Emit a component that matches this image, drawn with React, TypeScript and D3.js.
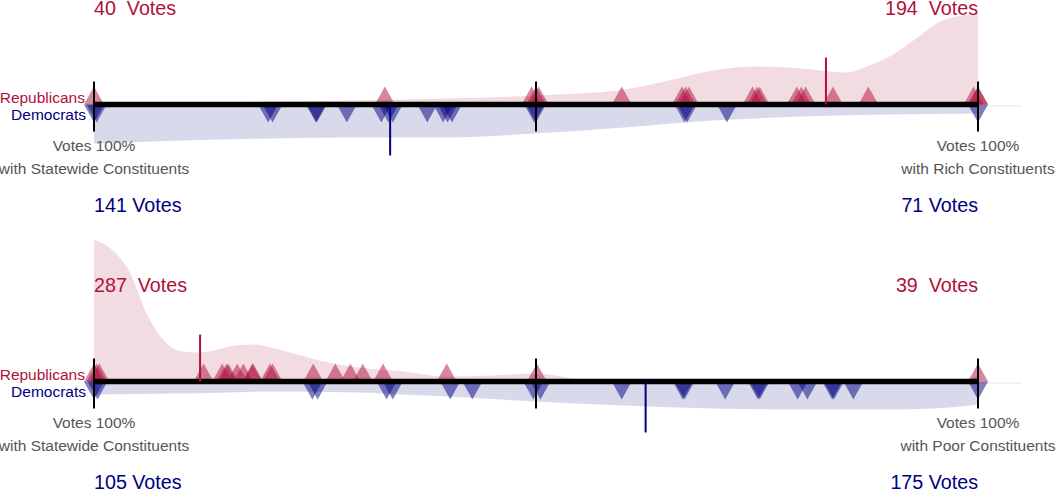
import React, { useEffect, useRef } from 'react';
import * as d3 from 'd3';

const RED = '#b0103a';
const NAVY = '#000080';

// top panel: rich vs statewide constituents (0 = statewide, 1 = rich)
const richRepVotes = [0, 0.329, 0.495, 0.5, 0.503, 0.597, 0.665, 0.669, 0.673, 0.745, 0.75, 0.753, 0.795, 0.8, 0.805, 0.836, 0.876, 0.995, 1.0, 1.0];
const richDemVotes = [0, 0.003, 0.197, 0.202, 0.251, 0.252, 0.286, 0.325, 0.333, 0.338, 0.377, 0.395, 0.4, 0.405, 0.498, 0.5, 0.668, 0.671, 0.716, 1.0];
const richRepMean = 0.828;
const richDemMean = 0.335;
const richRepCounts = [40, 194];
const richDemCounts = [141, 71];
const richRepDensityAt = [0, 0.1, 0.2, 0.3, 0.4, 0.5, 0.6, 0.65, 0.7, 0.75, 0.8, 0.85, 0.88, 0.9, 0.93, 0.96, 1.0];
const richRepDensity = [0.013, 0.013, 0.02, 0.027, 0.04, 0.06, 0.1, 0.16, 0.227, 0.253, 0.24, 0.213, 0.267, 0.32, 0.44, 0.56, 0.607];
const richDemDensityAt = [0, 0.1, 0.2, 0.3, 0.4, 0.5, 0.6, 0.7, 0.8, 0.9, 1.0];
const richDemDensity = [0.26, 0.24, 0.227, 0.22, 0.22, 0.193, 0.153, 0.107, 0.08, 0.067, 0.06];

// bottom panel: poor vs statewide constituents (0 = statewide, 1 = poor)
const poorRepVotes = [0, 0.003, 0.006, 0.124, 0.145, 0.15, 0.152, 0.162, 0.169, 0.179, 0.18, 0.199, 0.202, 0.248, 0.273, 0.29, 0.304, 0.327, 0.399, 0.501, 1.0];
const poorDemVotes = [0, 0.004, 0.247, 0.253, 0.331, 0.338, 0.403, 0.428, 0.497, 0.505, 0.597, 0.666, 0.668, 0.714, 0.751, 0.753, 0.796, 0.807, 0.835, 0.837, 0.859, 1.0];
const poorRepMean = 0.12;
const poorDemMean = 0.624;
const poorRepCounts = [287, 39];
const poorDemCounts = [105, 175];
const poorRepDensityAt = [0, 0.02, 0.04, 0.06, 0.08, 0.1, 0.12, 0.14, 0.16, 0.18, 0.2, 0.23, 0.26, 0.3, 0.35, 0.4, 0.45, 0.5, 0.55, 0.6, 0.7, 0.8, 0.9, 0.95, 0.98, 1.0];
const poorRepDensity = [0.947, 0.88, 0.733, 0.447, 0.267, 0.2, 0.193, 0.213, 0.24, 0.247, 0.227, 0.18, 0.133, 0.093, 0.067, 0.033, 0.04, 0.053, 0.013, 0, 0, 0, 0, 0, 0.013, 0.033];
const poorDemDensityAt = [0, 0.1, 0.2, 0.3, 0.35, 0.4, 0.5, 0.6, 0.7, 0.8, 0.9, 0.95, 1.0];
const poorDemDensity = [0.087, 0.08, 0.067, 0.073, 0.087, 0.1, 0.133, 0.16, 0.18, 0.187, 0.187, 0.18, 0.153];

const panels = [
  { group: 'Rich', rep: richRepVotes, dem: richDemVotes, repMean: richRepMean, demMean: richDemMean,
    repCounts: richRepCounts, demCounts: richDemCounts,
    repDens: richRepDensityAt.map((x, i) => [x, richRepDensity[i]]),
    demDens: richDemDensityAt.map((x, i) => [x, richDemDensity[i]]) },
  { group: 'Poor', rep: poorRepVotes, dem: poorDemVotes, repMean: poorRepMean, demMean: poorDemMean,
    repCounts: poorRepCounts, demCounts: poorDemCounts,
    repDens: poorRepDensityAt.map((x, i) => [x, poorRepDensity[i]]),
    demDens: poorDemDensityAt.map((x, i) => [x, poorDemDensity[i]]) },
];

const width = 1058;
const height = 489;
const font = 'Arial, "Liberation Sans", sans-serif';

export default function App() {
  const ref = useRef<SVGSVGElement>(null);

  useEffect(() => {
    const svg = d3.select(ref.current);
    svg.selectAll('*').remove();

    const x = d3.scaleLinear().domain([0, 1]).range([94, 978]);
    const dens = d3.scaleLinear().domain([0, 1]).range([0, 150]);
    const triW = 10;
    const triH = 18;

    panels.forEach((p, i) => {
      const g = svg.append('g').attr('transform', `translate(0, ${104.5 + i * 277})`);

      // density areas
      const up = d3.area<number[]>()
        .x((d) => x(d[0])).y0(0).y1((d) => -dens(d[1]))
        .curve(d3.curveMonotoneX);
      const down = d3.area<number[]>()
        .x((d) => x(d[0])).y0(0).y1((d) => dens(d[1]))
        .curve(d3.curveMonotoneX);
      g.append('path').attr('d', up(p.repDens)).attr('fill', RED).attr('fill-opacity', 0.15);
      g.append('path').attr('d', down(p.demDens)).attr('fill', NAVY).attr('fill-opacity', 0.15);

      // faint baseline
      g.append('line').attr('x1', x(0)).attr('x2', 1022).attr('y1', 1.5).attr('y2', 1.5)
        .attr('stroke', '#eee').attr('stroke-width', 1.5);

      // legislators
      g.selectAll('.rep').data(p.rep).enter().append('path')
        .attr('d', (d) => `M${x(d) - triW},0L${x(d)},${-triH}L${x(d) + triW},0Z`)
        .attr('fill', RED).attr('fill-opacity', 0.5);
      g.selectAll('.dem').data(p.dem).enter().append('path')
        .attr('d', (d) => `M${x(d) - triW},0L${x(d)},${triH}L${x(d) + triW},0Z`)
        .attr('fill', NAVY).attr('fill-opacity', 0.5);

      // axis
      g.append('line').attr('x1', x(0)).attr('x2', x(1)).attr('y1', 0).attr('y2', 0)
        .attr('stroke', '#000').attr('stroke-width', 5.5);
      g.selectAll('.tick').data([0, 0.5, 1]).enter().append('line')
        .attr('x1', (d) => x(d)).attr('x2', (d) => x(d)).attr('y1', -23).attr('y2', 27)
        .attr('stroke', '#000').attr('stroke-width', 2);

      // party means
      g.append('line').attr('x1', x(p.repMean)).attr('x2', x(p.repMean)).attr('y1', -47).attr('y2', 0)
        .attr('stroke', RED).attr('stroke-width', 2);
      g.append('line').attr('x1', x(p.demMean)).attr('x2', x(p.demMean)).attr('y1', 0).attr('y2', 51)
        .attr('stroke', NAVY).attr('stroke-width', 2);

      const text = (tx: number, ty: number, s: string, size: number, color: string, anchor: string) =>
        g.append('text').attr('x', tx).attr('y', ty).text(s)
          .attr('font-family', font).attr('font-size', size).attr('fill', color)
          .attr('text-anchor', anchor).style('white-space', 'pre');

      text(85, -2, 'Republicans', 15.5, RED, 'end');
      text(86, 15, 'Democrats', 15.5, NAVY, 'end');

      text(x(0), 46, 'Votes 100%', 15.5, '#555', 'middle');
      text(x(0), 69, 'with Statewide Constituents', 15.5, '#555', 'middle');
      text(x(1), 46, 'Votes 100%', 15.5, '#555', 'middle');
      text(x(1), 69, `with ${p.group} Constituents`, 15.5, '#555', 'middle');

      text(x(0), -90, `${p.repCounts[0]}  Votes`, 19.7, RED, 'start');
      text(x(1), -90, `${p.repCounts[1]}  Votes`, 19.7, RED, 'end');
      text(x(0), 107.5, `${p.demCounts[0]} Votes`, 19.7, NAVY, 'start');
      text(x(1), 107.5, `${p.demCounts[1]} Votes`, 19.7, NAVY, 'end');
    });
  }, []);

  return (
    <svg ref={ref} width={width} height={height}
      style={{ position: 'absolute', left: 0, top: 0, display: 'block', background: '#fff' }} />
  );
}
